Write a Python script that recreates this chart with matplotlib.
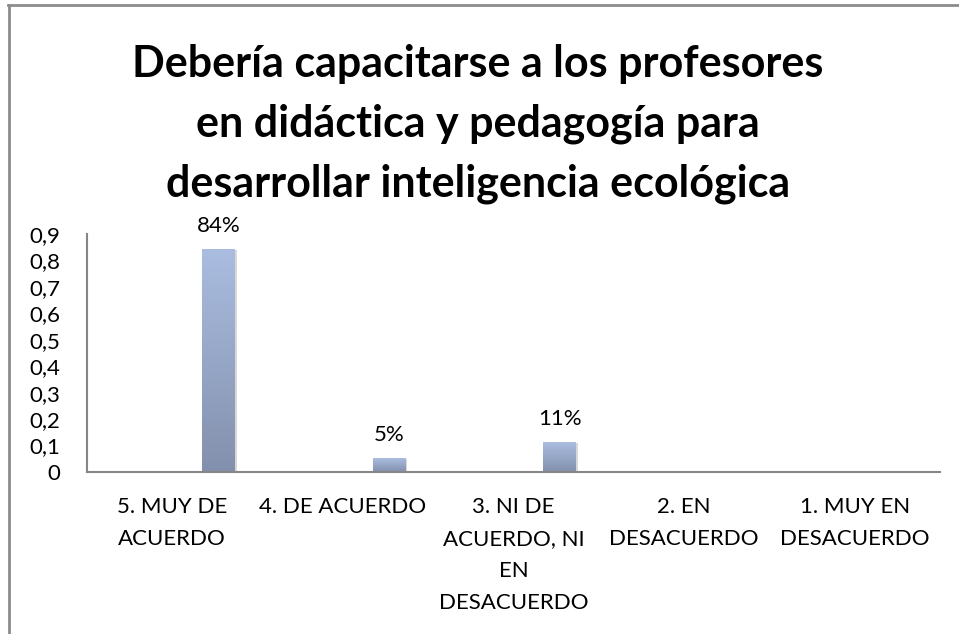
import matplotlib
matplotlib.use("Agg")
import matplotlib.pyplot as plt
import numpy as np
from matplotlib.colors import LinearSegmentedColormap
from matplotlib.lines import Line2D

categories = ["5. MUY DE\nACUERDO", "4. DE ACUERDO", "3. NI DE\nACUERDO, NI\nEN\nDESACUERDO",
              "2. EN\nDESACUERDO", "1. MUY EN\nDESACUERDO"]
values = [0.84, 0.05, 0.11, None, None]
value_labels = ["84%", "5%", "11%", "", ""]
yticks = [0, 0.1, 0.2, 0.3, 0.4, 0.5, 0.6, 0.7, 0.8, 0.9]
ytick_labels = ["0", "0,1", "0,2", "0,3", "0,4", "0,5", "0,6", "0,7", "0,8", "0,9"]
title = "Debería capacitarse a los profesores\nen didáctica y pedagogía para\ndesarrollar inteligencia ecológica"

plt.rcParams['font.family'] = ['Lato', 'DejaVu Sans']

fig = plt.figure(figsize=(9.59, 6.34), dpi=100)
ax = fig.add_axes([87/959, 1-472/634, (940-87)/959, (472-234)/634])

cmap = LinearSegmentedColormap.from_list("g", ["#8390AD", "#AABDE0"])
grad = np.linspace(0, 1, 256).reshape(-1, 1)

offset = 0.27
width = 0.19
for i, v in enumerate(values):
    if v is None:
        continue
    x0 = i + offset - width/2
    # shadow
    ax.add_patch(plt.Rectangle((x0+0.012, 0), width, v, color="#d8d8d8", zorder=1, lw=0))
    ax.imshow(grad, cmap=cmap, aspect='auto', origin='lower',
              extent=[x0, x0+width, 0, v], zorder=2)
    ax.annotate(value_labels[i], (i + offset, v), xytext=(0, 13), textcoords='offset points',
                ha='center', va='baseline', fontsize=16, color='#000000')

ax.set_xlim(-0.5, len(categories)-0.5)
ax.set_ylim(0, 0.9)
ax.set_xticks(range(len(categories)))
ax.set_xticklabels(categories, fontsize=16, linespacing=1.75, va='top')
ax.set_yticks(yticks)
ax.set_yticklabels(ytick_labels, fontsize=16)
ax.tick_params(axis='x', length=0, pad=18)
ax.tick_params(axis='y', length=0, pad=19)
for s in ['top', 'right']:
    ax.spines[s].set_visible(False)
for s in ['left', 'bottom']:
    ax.spines[s].set_color('#868686')
    ax.spines[s].set_linewidth(1.5)

fig.text(478/959, 1-124/634, title, ha='center', va='center', fontsize=31, fontweight='bold',
         linespacing=1.6)

# chart frame
fig.add_artist(Line2D([8.5/959, 8.5/959], [0, 1-4.5/634], transform=fig.transFigure,
                      color='#8c8c8c', lw=2))
fig.add_artist(Line2D([8/959, 1], [1-4.5/634, 1-4.5/634], transform=fig.transFigure,
                      color='#8c8c8c', lw=2))

fig.savefig("out.png", dpi=100)
